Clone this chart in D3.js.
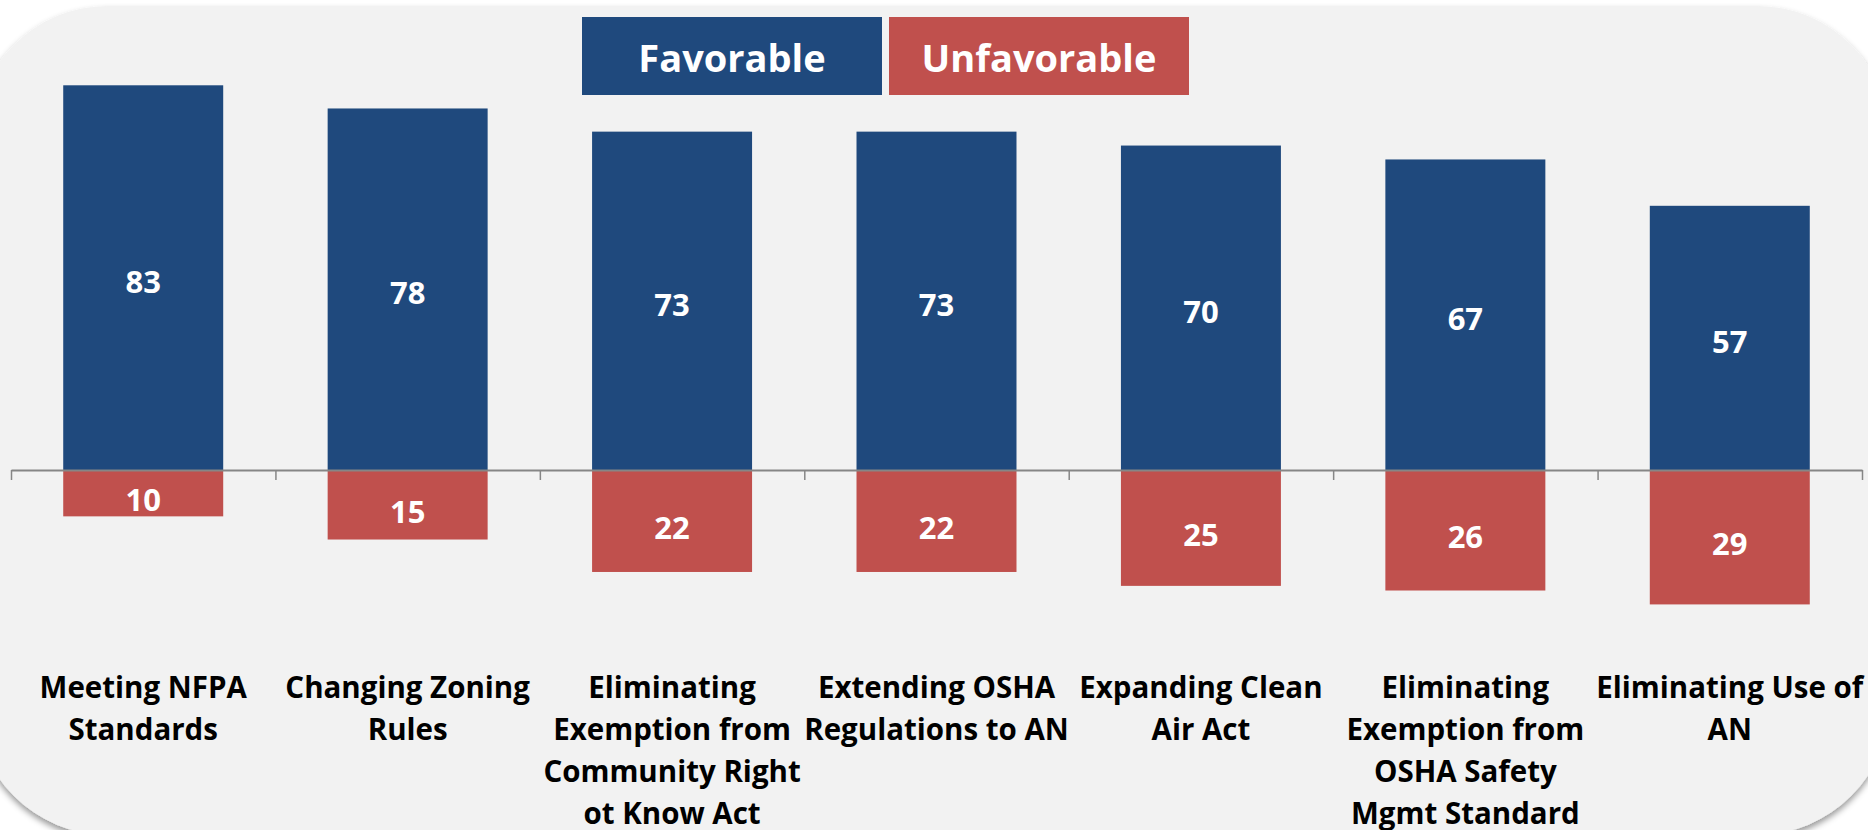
<html>

<head>
    <script src="https://d3js.org/d3.v7.min.js"></script>
    <title>Favorable vs Unfavorable</title>
    <style>
        body { margin: 0; background: #ffffff; }
        text { font-family: "Open Sans", Lato, sans-serif; font-weight: bold; }
    </style>
</head>

<body>
    <div id="vis"></div>
</body>

<script>

    // data
    var categories = [
        "Meeting NFPA\nStandards",
        "Changing Zoning\nRules",
        "Eliminating\nExemption from\nCommunity Right\not Know Act",
        "Extending OSHA\nRegulations to AN",
        "Expanding Clean\nAir Act",
        "Eliminating\nExemption from\nOSHA Safety\nMgmt Standard",
        "Eliminating Use of\nAN"
    ];
    var favorable = [83, 78, 73, 73, 70, 67, 57];
    var unfavorable = [10, 15, 22, 22, 25, 26, 29];
    var seriesNames = ["Favorable", "Unfavorable"];
    var seriesColors = ["#1f497d", "#c0504d"];

    var width = 1868,
        height = 830;

    var svg = d3.select("#vis")
        .append("svg")
        .attr("width", width)
        .attr("height", height);

    // soft shadow for the rounded panel
    var filter = svg.append("defs")
        .append("filter")
        .attr("id", "shadow")
        .attr("x", "-5%").attr("y", "-5%")
        .attr("width", "110%").attr("height", "110%");
    filter.append("feDropShadow")
        .attr("dx", 0)
        .attr("dy", 4)
        .attr("stdDeviation", 3)
        .attr("flood-color", "#000")
        .attr("flood-opacity", 0.4);

    svg.append("rect")
        .attr("x", -25)
        .attr("y", 6)
        .attr("width", 1915)
        .attr("height", 829)
        .attr("rx", 133)
        .attr("ry", 133)
        .attr("fill", "#f2f2f2")
        .attr("filter", "url(#shadow)");

    var data = categories.map(function (c, i) {
        return { cat: c, fav: favorable[i], unfav: unfavorable[i] };
    });

    var x = d3.scaleBand()
        .domain(categories)
        .range([11, 1862])
        .paddingInner(0.395)
        .paddingOuter(0.1975);

    var y = d3.scaleLinear()
        .domain([-30, 90])
        .range([470 + 30 * 4.635, 470 - 90 * 4.635]);

    // favorable bars (above zero)
    svg.selectAll(".fav")
        .data(data)
        .enter()
        .append("rect")
        .attr("class", "fav")
        .attr("x", function (d) { return x(d.cat); })
        .attr("y", function (d) { return y(d.fav); })
        .attr("width", x.bandwidth())
        .attr("height", function (d) { return y(0) - y(d.fav); })
        .attr("fill", seriesColors[0]);

    // unfavorable bars (below zero)
    svg.selectAll(".unfav")
        .data(data)
        .enter()
        .append("rect")
        .attr("class", "unfav")
        .attr("x", function (d) { return x(d.cat); })
        .attr("y", y(0))
        .attr("width", x.bandwidth())
        .attr("height", function (d) { return y(-d.unfav) - y(0); })
        .attr("fill", seriesColors[1]);

    // axis with ticks between the categories
    var tickScale = d3.scaleLinear()
        .domain([0, categories.length])
        .range(x.range());
    var axis = svg.append("g")
        .attr("transform", "translate(0," + y(0) + ")")
        .call(d3.axisBottom(tickScale)
            .tickValues(d3.range(categories.length + 1))
            .tickSize(10)
            .tickSizeOuter(0)
            .tickFormat(""));
    axis.select(".domain").attr("stroke", "#868686").attr("stroke-width", 2);
    axis.selectAll(".tick line").attr("stroke", "#868686").attr("stroke-width", 1.5);

    // value labels
    svg.selectAll(".favLabel")
        .data(data)
        .enter()
        .append("text")
        .attr("x", function (d) { return x(d.cat) + x.bandwidth() / 2; })
        .attr("y", function (d) { return (y(d.fav) + y(0)) / 2 + 15; })
        .attr("text-anchor", "middle")
        .attr("fill", "#fff")
        .style("font-size", "31px")
        .text(function (d) { return d.fav; });

    svg.selectAll(".unfavLabel")
        .data(data)
        .enter()
        .append("text")
        .attr("x", function (d) { return x(d.cat) + x.bandwidth() / 2; })
        .attr("y", function (d) { return (y(-d.unfav) + y(0)) / 2 + 18; })
        .attr("text-anchor", "middle")
        .attr("fill", "#fff")
        .style("font-size", "31px")
        .text(function (d) { return d.unfav; });

    // category labels
    svg.selectAll(".catLabel")
        .data(data)
        .enter()
        .append("text")
        .attr("text-anchor", "middle")
        .attr("fill", "#000")
        .style("font-size", "29.5px")
        .each(function (d) {
            var t = d3.select(this);
            d.cat.split("\n").forEach(function (line, i) {
                t.append("tspan")
                    .attr("x", x(d.cat) + x.bandwidth() / 2)
                    .attr("y", 698 + i * 42)
                    .text(line);
            });
        });

    // legend boxes at the top
    var legend = svg.selectAll(".legend")
        .data(seriesNames)
        .enter()
        .append("g")
        .attr("transform", function (d, i) { return "translate(" + (582 + i * 307) + ",17)"; });
    legend.append("rect")
        .attr("width", 300)
        .attr("height", 78)
        .attr("fill", function (d, i) { return seriesColors[i]; });
    legend.append("text")
        .attr("x", 150)
        .attr("y", 55)
        .attr("text-anchor", "middle")
        .attr("fill", "#fff")
        .style("font-size", "38px")
        .text(function (d) { return d; });

</script>

</html>
